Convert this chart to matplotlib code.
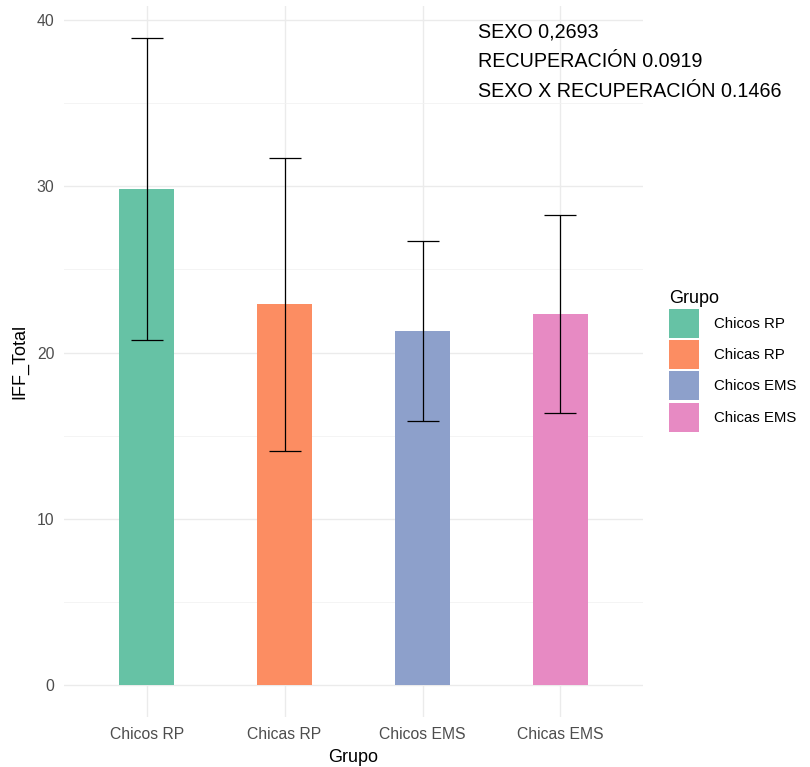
import numpy as np
import matplotlib.pyplot as plt
from matplotlib.patches import Patch

plt.rcParams['font.family'] = ['Liberation Sans', 'DejaVu Sans']

grupos = ["Chicos RP", "Chicas RP", "Chicos EMS", "Chicas EMS"]
medias = [29.85, 22.9, 21.3, 22.3]
sd = [9.1, 8.8, 5.4, 5.95]
colores = ["#66C2A5", "#FC8D62", "#8DA0CB", "#E78AC3"]
anotacion = ["SEXO 0,2693", "RECUPERACIÓN 0.0919", "SEXO X RECUPERACIÓN 0.1466"]

fig = plt.figure(figsize=(8.1, 7.67), dpi=100)
ax = fig.add_axes([0.079, 0.065, 0.715, 0.927])

x = np.arange(1, len(grupos) + 1)
ax.bar(x, medias, width=0.4, color=colores, zorder=2)
ax.errorbar(x, medias, yerr=sd, fmt='none', ecolor='black', elinewidth=0.9,
            capsize=11.5, capthick=0.9, zorder=3)

ax.set_xlim(0.4, 4.6)
ax.set_ylim(-1.95, 40.85)
ax.set_xticks(x)
ax.set_xticklabels(grupos)
ax.set_yticks([0, 10, 20, 30, 40])
ax.set_yticks([5, 15, 25, 35], minor=True)
ax.grid(which='major', color='#EBEBEB', linewidth=1.0, zorder=0)
ax.grid(which='minor', axis='y', color='#F2F2F2', linewidth=0.6, zorder=0)
ax.tick_params(axis='both', which='both', length=0, labelcolor='#4D4D4D', labelsize=11.3, pad=7)
for s in ax.spines.values():
    s.set_visible(False)

ax.set_xlabel("Grupo", fontsize=13, labelpad=5)
ax.set_ylabel("IFF_Total", fontsize=13, labelpad=6)

for i, t in enumerate(anotacion):
    ax.text(0.714, 0.977 - i * 0.0415, t, transform=ax.transAxes, fontsize=14.2,
            va='top', ha='left', clip_on=False)

handles = [Patch(facecolor=c, label=g) for g, c in zip(grupos, colores)]
leg = fig.legend(handles=handles, title="Grupo", loc='upper left',
                 bbox_to_anchor=(0.809, 0.64), frameon=False, fontsize=10.8,
                 title_fontsize=13, handlelength=2.0, handleheight=2.6,
                 labelspacing=0.15, handletextpad=1.0)
leg._legend_box.align = "left"

fig.savefig("out.png", dpi=100)
